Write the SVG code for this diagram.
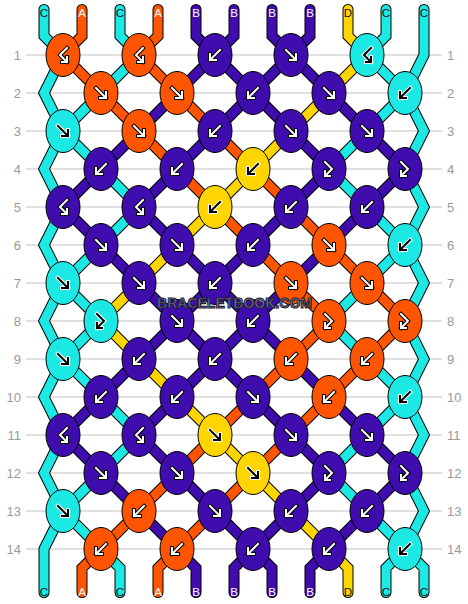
<svg xmlns="http://www.w3.org/2000/svg" xmlns:xlink="http://www.w3.org/1999/xlink" width="468" height="604" viewBox="0 0 468 604">
<style>
.grid{stroke:#c0c0c0;stroke-width:1}
.rl{font-family:"Liberation Sans",Arial,sans-serif;font-size:13px;fill:#9a9a9a}
.ol{fill:none;stroke:#000;stroke-width:11;stroke-linecap:round;stroke-linejoin:miter}
.fa,.fb,.fc,.fd{fill:none;stroke-width:9;stroke-linecap:round;stroke-linejoin:miter}
.fa{stroke:#ff5500}.fb{stroke:#3f0cae}.fc{stroke:#1ce8e4}.fd{stroke:#ffd500}
.kA,.kB,.kC,.kD{stroke:#000;stroke-width:1}
.kA{fill:#ff5500}.kB{fill:#3f0cae}.kC{fill:#1ce8e4}.kD{fill:#ffd500}
.ak{fill:none;stroke:#000;stroke-width:4;stroke-linecap:square}
.aw{fill:none;stroke:#fff;stroke-width:2;stroke-linecap:square}
.awo{fill:none;stroke:#fff;stroke-width:4;stroke-linecap:square}
.akb{fill:none;stroke:#000;stroke-width:2;stroke-linecap:square}
.sl{font-family:"Liberation Sans",Arial,sans-serif;font-size:11.5px;text-anchor:middle}
.lw{fill:#fff}.lk{fill:#111}
.wm{font-family:"Liberation Sans",Arial,sans-serif;font-weight:bold;font-size:15px;fill:#8f87ad;stroke:#222230;stroke-width:1.1;text-anchor:middle}
</style>
<defs>
<path id="sA" d="M82,9.5V36L63,55M158,9.5V36L139,55M63,55L101,93M139,55L177,93M101,93L139,131M177,93L215,131M139,131L177,169M215,131L253,169M177,169L215,207M253,169L291,207M215,207L253,245M291,207L329,245M253,245L291,283M329,245L367,283M291,283L329,321M367,283L405,321M329,321L291,359M405,321L367,359M291,359L253,397M367,359L329,397M253,397L215,435M329,397L291,435M215,435L177,473M291,435L253,473M177,473L139,511M253,473L215,511M139,511L101,549M215,511L177,549M101,549L82,568V592.5M177,549L158,568V592.5"/>
<path id="sD" d="M348,9.5V36L367,55L329,93L291,131L253,169L215,207L177,245L139,283L101,321L139,359L177,397L215,435L253,473L291,511L329,549L348,568V592.5"/>
<path id="sC" d="M44,9.5V36L63,55L44,93L63,131L44,169L63,207L44,245L63,283L44,321L63,359L44,397L63,435L44,473L63,511L44,549V592.5M424,9.5V55L405,93L424,131L405,169L424,207L405,245L424,283L405,321L424,359L405,397L424,435L405,473L424,511L405,549L424,568V592.5M120,9.5V36L139,55M386,9.5V36L367,55M139,55L101,93M367,55L405,93M101,93L63,131M405,93L367,131M63,131L101,169M367,131L329,169M101,169L139,207M329,169L367,207M139,207L101,245M367,207L405,245M101,245L63,283M405,245L367,283M63,283L101,321M367,283L329,321M101,321L63,359M329,321L367,359M63,359L101,397M367,359L405,397M101,397L139,435M405,397L367,435M139,435L101,473M367,435L329,473M101,473L63,511M329,473L367,511M63,511L101,549M367,511L405,549M101,549L120,568V592.5M405,549L386,568V592.5"/>
<path id="sB" d="M196,9.5V36L215,55M234,9.5V36L215,55M272,9.5V36L291,55M310,9.5V36L291,55M215,55L177,93M215,55L253,93M291,55L253,93M291,55L329,93M177,93L139,131M253,93L215,131M253,93L291,131M329,93L367,131M139,131L101,169M215,131L177,169M291,131L329,169M367,131L405,169M101,169L63,207M177,169L139,207M329,169L291,207M405,169L367,207M63,207L101,245M139,207L177,245M291,207L253,245M367,207L329,245M101,245L139,283M177,245L215,283M253,245L215,283M329,245L291,283M139,283L177,321M215,283L177,321M215,283L253,321M291,283L253,321M177,321L139,359M177,321L215,359M253,321L215,359M253,321L291,359M139,359L101,397M215,359L177,397M215,359L253,397M291,359L329,397M101,397L63,435M177,397L139,435M253,397L291,435M329,397L367,435M63,435L101,473M139,435L177,473M291,435L329,473M367,435L405,473M101,473L139,511M177,473L215,511M329,473L291,511M405,473L367,511M139,511L177,549M215,511L253,549M291,511L253,549M367,511L329,549M177,549L196,568V592.5M253,549L234,568V592.5M253,549L272,568V592.5M329,549L310,568V592.5"/>
<g id="wF"><path class="ak" d="M-5,-5L5,5M5,-1L5,5L-1,5"/><path class="aw" d="M-5,-5L5,5M5,-1L5,5L-1,5"/></g>
<g id="wB"><path class="ak" d="M5,-5L-5,5M-5,-1L-5,5L1,5"/><path class="aw" d="M5,-5L-5,5M-5,-1L-5,5L1,5"/></g>
<g id="wBF"><path class="ak" d="M4,-7L-3,0L4,7M4,2L4,7L-1,7"/><path class="aw" d="M4,-7L-3,0L4,7M4,2L4,7L-1,7"/></g>
<g id="wFB"><path class="ak" d="M-4,-7L3,0L-4,7M-4,2L-4,7L1,7"/><path class="aw" d="M-4,-7L3,0L-4,7M-4,2L-4,7L1,7"/></g>
<g id="bF"><path class="awo" d="M-5,-5L5,5M5,-1L5,5L-1,5"/><path class="akb" d="M-5,-5L5,5M5,-1L5,5L-1,5"/></g>
<g id="bB"><path class="awo" d="M5,-5L-5,5M-5,-1L-5,5L1,5"/><path class="akb" d="M5,-5L-5,5M-5,-1L-5,5L1,5"/></g>
<g id="bBF"><path class="awo" d="M4,-7L-3,0L4,7M4,2L4,7L-1,7"/><path class="akb" d="M4,-7L-3,0L4,7M4,2L4,7L-1,7"/></g>
<g id="bFB"><path class="awo" d="M-4,-7L3,0L-4,7M-4,2L-4,7L1,7"/><path class="akb" d="M-4,-7L3,0L-4,7M-4,2L-4,7L1,7"/></g>
</defs>
<rect width="468" height="604" fill="#fff"/>
<g id="grid">
<line class="grid" x1="26" y1="55" x2="442" y2="55"/><line class="grid" x1="26" y1="93" x2="442" y2="93"/><line class="grid" x1="26" y1="131" x2="442" y2="131"/><line class="grid" x1="26" y1="169" x2="442" y2="169"/><line class="grid" x1="26" y1="207" x2="442" y2="207"/><line class="grid" x1="26" y1="245" x2="442" y2="245"/><line class="grid" x1="26" y1="283" x2="442" y2="283"/><line class="grid" x1="26" y1="321" x2="442" y2="321"/><line class="grid" x1="26" y1="359" x2="442" y2="359"/><line class="grid" x1="26" y1="397" x2="442" y2="397"/><line class="grid" x1="26" y1="435" x2="442" y2="435"/><line class="grid" x1="26" y1="473" x2="442" y2="473"/><line class="grid" x1="26" y1="511" x2="442" y2="511"/><line class="grid" x1="26" y1="549" x2="442" y2="549"/>
</g>
<g id="row-labels">
<text class="rl" text-anchor="end" x="21" y="59.5">1</text><text class="rl" text-anchor="end" x="21" y="97.5">2</text><text class="rl" text-anchor="end" x="21" y="135.5">3</text><text class="rl" text-anchor="end" x="21" y="173.5">4</text><text class="rl" text-anchor="end" x="21" y="211.5">5</text><text class="rl" text-anchor="end" x="21" y="249.5">6</text><text class="rl" text-anchor="end" x="21" y="287.5">7</text><text class="rl" text-anchor="end" x="21" y="325.5">8</text><text class="rl" text-anchor="end" x="21" y="363.5">9</text><text class="rl" text-anchor="end" x="21" y="401.5">10</text><text class="rl" text-anchor="end" x="21" y="439.5">11</text><text class="rl" text-anchor="end" x="21" y="477.5">12</text><text class="rl" text-anchor="end" x="21" y="515.5">13</text><text class="rl" text-anchor="end" x="21" y="553.5">14</text>
<text class="rl" x="447" y="59.5">1</text><text class="rl" x="447" y="97.5">2</text><text class="rl" x="447" y="135.5">3</text><text class="rl" x="447" y="173.5">4</text><text class="rl" x="447" y="211.5">5</text><text class="rl" x="447" y="249.5">6</text><text class="rl" x="447" y="287.5">7</text><text class="rl" x="447" y="325.5">8</text><text class="rl" x="447" y="363.5">9</text><text class="rl" x="447" y="401.5">10</text><text class="rl" x="447" y="439.5">11</text><text class="rl" x="447" y="477.5">12</text><text class="rl" x="447" y="515.5">13</text><text class="rl" x="447" y="553.5">14</text>
</g>
<g id="connectors">
<use xlink:href="#sA" href="#sA" class="ol"/><use xlink:href="#sB" href="#sB" class="ol"/><use xlink:href="#sC" href="#sC" class="ol"/><use xlink:href="#sD" href="#sD" class="ol"/>
<use xlink:href="#sC" href="#sC" class="fc"/><use xlink:href="#sB" href="#sB" class="fb"/><use xlink:href="#sA" href="#sA" class="fa"/><use xlink:href="#sD" href="#sD" class="fd"/>
</g>
<g id="string-labels">
<text class="sl lk" x="44" y="17">C</text><text class="sl lw" x="82" y="17">A</text><text class="sl lk" x="120" y="17">C</text><text class="sl lw" x="158" y="17">A</text><text class="sl lw" x="196" y="17">B</text><text class="sl lw" x="234" y="17">B</text><text class="sl lw" x="272" y="17">B</text><text class="sl lw" x="310" y="17">B</text><text class="sl lk" x="348" y="17">D</text><text class="sl lk" x="386" y="17">C</text><text class="sl lk" x="424" y="17">C</text>
<text class="sl lk" x="44" y="596">C</text><text class="sl lw" x="82" y="596">A</text><text class="sl lk" x="120" y="596">C</text><text class="sl lw" x="158" y="596">A</text><text class="sl lw" x="196" y="596">B</text><text class="sl lw" x="234" y="596">B</text><text class="sl lw" x="272" y="596">B</text><text class="sl lw" x="310" y="596">B</text><text class="sl lk" x="348" y="596">D</text><text class="sl lk" x="386" y="596">C</text><text class="sl lk" x="424" y="596">C</text>
</g>
<g id="knots">
<g id="k1-1" transform="translate(63,55)"><ellipse class="kA" rx="17" ry="21.5"/><use href="#wBF" xlink:href="#wBF"/></g>
<g id="k1-2" transform="translate(139,55)"><ellipse class="kA" rx="17" ry="21.5"/><use href="#wBF" xlink:href="#wBF"/></g>
<g id="k1-3" transform="translate(215,55)"><ellipse class="kB" rx="17" ry="21.5"/><use href="#wB" xlink:href="#wB"/></g>
<g id="k1-4" transform="translate(291,55)"><ellipse class="kB" rx="17" ry="21.5"/><use href="#wF" xlink:href="#wF"/></g>
<g id="k1-5" transform="translate(367,55)"><ellipse class="kC" rx="17" ry="21.5"/><use href="#bBF" xlink:href="#bBF"/></g>
<g id="k2-1" transform="translate(101,93)"><ellipse class="kA" rx="17" ry="21.5"/><use href="#wF" xlink:href="#wF"/></g>
<g id="k2-2" transform="translate(177,93)"><ellipse class="kA" rx="17" ry="21.5"/><use href="#wF" xlink:href="#wF"/></g>
<g id="k2-3" transform="translate(253,93)"><ellipse class="kB" rx="17" ry="21.5"/><use href="#wB" xlink:href="#wB"/></g>
<g id="k2-4" transform="translate(329,93)"><ellipse class="kB" rx="17" ry="21.5"/><use href="#wF" xlink:href="#wF"/></g>
<g id="k2-5" transform="translate(405,93)"><ellipse class="kC" rx="17" ry="21.5"/><use href="#bB" xlink:href="#bB"/></g>
<g id="k3-1" transform="translate(63,131)"><ellipse class="kC" rx="17" ry="21.5"/><use href="#bF" xlink:href="#bF"/></g>
<g id="k3-2" transform="translate(139,131)"><ellipse class="kA" rx="17" ry="21.5"/><use href="#wF" xlink:href="#wF"/></g>
<g id="k3-3" transform="translate(215,131)"><ellipse class="kB" rx="17" ry="21.5"/><use href="#wB" xlink:href="#wB"/></g>
<g id="k3-4" transform="translate(291,131)"><ellipse class="kB" rx="17" ry="21.5"/><use href="#wF" xlink:href="#wF"/></g>
<g id="k3-5" transform="translate(367,131)"><ellipse class="kB" rx="17" ry="21.5"/><use href="#wF" xlink:href="#wF"/></g>
<g id="k4-1" transform="translate(101,169)"><ellipse class="kB" rx="17" ry="21.5"/><use href="#wB" xlink:href="#wB"/></g>
<g id="k4-2" transform="translate(177,169)"><ellipse class="kB" rx="17" ry="21.5"/><use href="#wB" xlink:href="#wB"/></g>
<g id="k4-3" transform="translate(253,169)"><ellipse class="kD" rx="17" ry="21.5"/><use href="#bB" xlink:href="#bB"/></g>
<g id="k4-4" transform="translate(329,169)"><ellipse class="kB" rx="17" ry="21.5"/><use href="#wFB" xlink:href="#wFB"/></g>
<g id="k4-5" transform="translate(405,169)"><ellipse class="kB" rx="17" ry="21.5"/><use href="#wFB" xlink:href="#wFB"/></g>
<g id="k5-1" transform="translate(63,207)"><ellipse class="kB" rx="17" ry="21.5"/><use href="#wBF" xlink:href="#wBF"/></g>
<g id="k5-2" transform="translate(139,207)"><ellipse class="kB" rx="17" ry="21.5"/><use href="#wBF" xlink:href="#wBF"/></g>
<g id="k5-3" transform="translate(215,207)"><ellipse class="kD" rx="17" ry="21.5"/><use href="#bB" xlink:href="#bB"/></g>
<g id="k5-4" transform="translate(291,207)"><ellipse class="kB" rx="17" ry="21.5"/><use href="#wB" xlink:href="#wB"/></g>
<g id="k5-5" transform="translate(367,207)"><ellipse class="kB" rx="17" ry="21.5"/><use href="#wB" xlink:href="#wB"/></g>
<g id="k6-1" transform="translate(101,245)"><ellipse class="kB" rx="17" ry="21.5"/><use href="#wF" xlink:href="#wF"/></g>
<g id="k6-2" transform="translate(177,245)"><ellipse class="kB" rx="17" ry="21.5"/><use href="#wF" xlink:href="#wF"/></g>
<g id="k6-3" transform="translate(253,245)"><ellipse class="kB" rx="17" ry="21.5"/><use href="#wB" xlink:href="#wB"/></g>
<g id="k6-4" transform="translate(329,245)"><ellipse class="kA" rx="17" ry="21.5"/><use href="#wF" xlink:href="#wF"/></g>
<g id="k6-5" transform="translate(405,245)"><ellipse class="kC" rx="17" ry="21.5"/><use href="#bB" xlink:href="#bB"/></g>
<g id="k7-1" transform="translate(63,283)"><ellipse class="kC" rx="17" ry="21.5"/><use href="#bF" xlink:href="#bF"/></g>
<g id="k7-2" transform="translate(139,283)"><ellipse class="kB" rx="17" ry="21.5"/><use href="#wF" xlink:href="#wF"/></g>
<g id="k7-3" transform="translate(215,283)"><ellipse class="kB" rx="17" ry="21.5"/><use href="#wB" xlink:href="#wB"/></g>
<g id="k7-4" transform="translate(291,283)"><ellipse class="kA" rx="17" ry="21.5"/><use href="#wF" xlink:href="#wF"/></g>
<g id="k7-5" transform="translate(367,283)"><ellipse class="kA" rx="17" ry="21.5"/><use href="#wF" xlink:href="#wF"/></g>
<g id="k8-1" transform="translate(101,321)"><ellipse class="kC" rx="17" ry="21.5"/><use href="#bFB" xlink:href="#bFB"/></g>
<g id="k8-2" transform="translate(177,321)"><ellipse class="kB" rx="17" ry="21.5"/><use href="#wF" xlink:href="#wF"/></g>
<g id="k8-3" transform="translate(253,321)"><ellipse class="kB" rx="17" ry="21.5"/><use href="#wB" xlink:href="#wB"/></g>
<g id="k8-4" transform="translate(329,321)"><ellipse class="kA" rx="17" ry="21.5"/><use href="#wFB" xlink:href="#wFB"/></g>
<g id="k8-5" transform="translate(405,321)"><ellipse class="kA" rx="17" ry="21.5"/><use href="#wFB" xlink:href="#wFB"/></g>
<g id="k9-1" transform="translate(63,359)"><ellipse class="kC" rx="17" ry="21.5"/><use href="#bF" xlink:href="#bF"/></g>
<g id="k9-2" transform="translate(139,359)"><ellipse class="kB" rx="17" ry="21.5"/><use href="#wB" xlink:href="#wB"/></g>
<g id="k9-3" transform="translate(215,359)"><ellipse class="kB" rx="17" ry="21.5"/><use href="#wB" xlink:href="#wB"/></g>
<g id="k9-4" transform="translate(291,359)"><ellipse class="kA" rx="17" ry="21.5"/><use href="#wB" xlink:href="#wB"/></g>
<g id="k9-5" transform="translate(367,359)"><ellipse class="kA" rx="17" ry="21.5"/><use href="#wB" xlink:href="#wB"/></g>
<g id="k10-1" transform="translate(101,397)"><ellipse class="kB" rx="17" ry="21.5"/><use href="#wB" xlink:href="#wB"/></g>
<g id="k10-2" transform="translate(177,397)"><ellipse class="kB" rx="17" ry="21.5"/><use href="#wB" xlink:href="#wB"/></g>
<g id="k10-3" transform="translate(253,397)"><ellipse class="kB" rx="17" ry="21.5"/><use href="#wF" xlink:href="#wF"/></g>
<g id="k10-4" transform="translate(329,397)"><ellipse class="kA" rx="17" ry="21.5"/><use href="#wB" xlink:href="#wB"/></g>
<g id="k10-5" transform="translate(405,397)"><ellipse class="kC" rx="17" ry="21.5"/><use href="#bB" xlink:href="#bB"/></g>
<g id="k11-1" transform="translate(63,435)"><ellipse class="kB" rx="17" ry="21.5"/><use href="#wBF" xlink:href="#wBF"/></g>
<g id="k11-2" transform="translate(139,435)"><ellipse class="kB" rx="17" ry="21.5"/><use href="#wBF" xlink:href="#wBF"/></g>
<g id="k11-3" transform="translate(215,435)"><ellipse class="kD" rx="17" ry="21.5"/><use href="#bF" xlink:href="#bF"/></g>
<g id="k11-4" transform="translate(291,435)"><ellipse class="kB" rx="17" ry="21.5"/><use href="#wF" xlink:href="#wF"/></g>
<g id="k11-5" transform="translate(367,435)"><ellipse class="kB" rx="17" ry="21.5"/><use href="#wF" xlink:href="#wF"/></g>
<g id="k12-1" transform="translate(101,473)"><ellipse class="kB" rx="17" ry="21.5"/><use href="#wF" xlink:href="#wF"/></g>
<g id="k12-2" transform="translate(177,473)"><ellipse class="kB" rx="17" ry="21.5"/><use href="#wF" xlink:href="#wF"/></g>
<g id="k12-3" transform="translate(253,473)"><ellipse class="kD" rx="17" ry="21.5"/><use href="#bF" xlink:href="#bF"/></g>
<g id="k12-4" transform="translate(329,473)"><ellipse class="kB" rx="17" ry="21.5"/><use href="#wFB" xlink:href="#wFB"/></g>
<g id="k12-5" transform="translate(405,473)"><ellipse class="kB" rx="17" ry="21.5"/><use href="#wFB" xlink:href="#wFB"/></g>
<g id="k13-1" transform="translate(63,511)"><ellipse class="kC" rx="17" ry="21.5"/><use href="#bF" xlink:href="#bF"/></g>
<g id="k13-2" transform="translate(139,511)"><ellipse class="kA" rx="17" ry="21.5"/><use href="#wB" xlink:href="#wB"/></g>
<g id="k13-3" transform="translate(215,511)"><ellipse class="kB" rx="17" ry="21.5"/><use href="#wF" xlink:href="#wF"/></g>
<g id="k13-4" transform="translate(291,511)"><ellipse class="kB" rx="17" ry="21.5"/><use href="#wB" xlink:href="#wB"/></g>
<g id="k13-5" transform="translate(367,511)"><ellipse class="kB" rx="17" ry="21.5"/><use href="#wB" xlink:href="#wB"/></g>
<g id="k14-1" transform="translate(101,549)"><ellipse class="kA" rx="17" ry="21.5"/><use href="#wB" xlink:href="#wB"/></g>
<g id="k14-2" transform="translate(177,549)"><ellipse class="kA" rx="17" ry="21.5"/><use href="#wB" xlink:href="#wB"/></g>
<g id="k14-3" transform="translate(253,549)"><ellipse class="kB" rx="17" ry="21.5"/><use href="#wB" xlink:href="#wB"/></g>
<g id="k14-4" transform="translate(329,549)"><ellipse class="kB" rx="17" ry="21.5"/><use href="#wB" xlink:href="#wB"/></g>
<g id="k14-5" transform="translate(405,549)"><ellipse class="kC" rx="17" ry="21.5"/><use href="#bB" xlink:href="#bB"/></g>
</g>
<text class="wm" x="234.5" y="307.5" textLength="155" lengthAdjust="spacingAndGlyphs">BRACELETBOOK.COM</text>
</svg>
